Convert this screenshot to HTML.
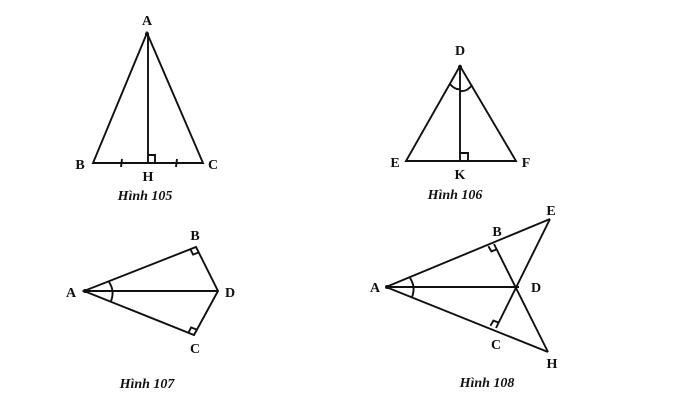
<!DOCTYPE html>
<html><head><style>
html,body{margin:0;padding:0;background:#fff;}
svg{display:block;}
text{font-family:"Liberation Serif",serif;font-weight:bold;font-size:14px;fill:#111;text-anchor:middle;}
text.cap{font-style:italic;font-weight:bold;font-size:14px;}
</style></head><body>
<svg width="695" height="412" viewBox="0 0 695 412" xmlns="http://www.w3.org/2000/svg">
<g stroke="#111" stroke-width="1.9" fill="none">
<!-- Fig 105 -->
<path d="M147,33 L93,163 L203,163 Z"/>
<line x1="148" y1="33" x2="148" y2="163"/>
<path d="M148,155 H155 V163"/>
<line x1="122" y1="159" x2="121" y2="167"/>
<line x1="177" y1="159" x2="176" y2="167"/>
<!-- Fig 106 -->
<path d="M460,66 L406,161 L516,161 Z"/>
<line x1="460" y1="66" x2="460" y2="161"/>
<path d="M460,153 H468 V161"/>
<path d="M450,84 Q455,90 460,89"/>
<path d="M460,91 Q467,92 472,85"/>
<!-- Fig 107 -->
<path d="M84,291 L196,247 L218,291 L194,335 Z"/>
<line x1="84" y1="291" x2="218" y2="291"/>
<path d="M190.4,249.2 L193.1,254.6 L198.7,252.4"/>
<path d="M188.4,332.8 L191.1,327.4 L196.7,329.6"/>
<path d="M109,282 Q115,291 111,301"/>
<!-- Fig 108 -->
<line x1="386" y1="287" x2="550" y2="219"/>
<line x1="386" y1="287" x2="548" y2="352"/>
<line x1="386" y1="287" x2="519" y2="287"/>
<line x1="494" y1="244" x2="548" y2="352"/>
<line x1="550" y1="219" x2="496" y2="328"/>
<path d="M488.4,246.2 L491.4,251.4 L497,249.2"/>
<path d="M490.4,325.8 L493.4,320.6 L499,322.8"/>
<path d="M410,278 Q416,287 412,297"/>
</g>
<g fill="#111">
<circle cx="147" cy="34" r="2"/><circle cx="460" cy="67" r="2"/>
<circle cx="85" cy="291" r="2"/><circle cx="387" cy="287" r="2"/>
</g>
<text x="147" y="25">A</text>
<text x="80" y="169">B</text>
<text x="213" y="169">C</text>
<text x="148" y="181">H</text>
<text class="cap" x="145" y="200">Hình 105</text>
<text x="460" y="55">D</text>
<text x="395" y="167">E</text>
<text x="526" y="167">F</text>
<text x="460" y="179">K</text>
<text class="cap" x="455" y="199">Hình 106</text>
<text x="71" y="297">A</text>
<text x="195" y="240">B</text>
<text x="230" y="297">D</text>
<text x="195" y="353">C</text>
<text class="cap" x="147" y="388">Hình 107</text>
<text x="375" y="292">A</text>
<text x="497" y="236">B</text>
<text x="551" y="215">E</text>
<text x="536" y="292">D</text>
<text x="496" y="349">C</text>
<text x="552" y="368">H</text>
<text class="cap" x="487" y="387">Hình 108</text>
</svg>
</body></html>
